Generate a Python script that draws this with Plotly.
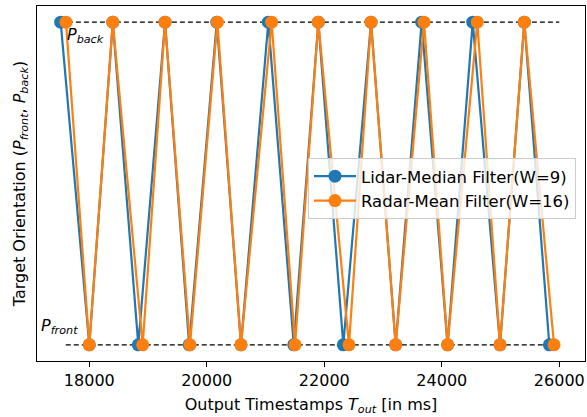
import plotly.graph_objects as go

# Data
lidar_t = [17513, 18000, 18400, 18834, 19289, 19700, 20170, 20582, 21047, 21480,
           21898, 22323, 22795, 23215, 23657, 24098, 24526, 24991, 25404, 25830]
lidar_o = [1, 0, 1, 0, 1, 0, 1, 0, 1, 0, 1, 0, 1, 0, 1, 0, 1, 0, 1, 0]
radar_t = [17603, 18000, 18400, 18909, 19289, 19714, 20180, 20582, 21104, 21502,
           21898, 22420, 22795, 23215, 23697, 24098, 24604, 24991, 25404, 25910]
radar_o = [1, 0, 1, 0, 1, 0, 1, 0, 1, 0, 1, 0, 1, 0, 1, 0, 1, 0, 1, 0]
back_line_x = [17500, 26000]
front_line_x = [17600, 26000]
x_ticks = [18000, 20000, 22000, 24000, 26000]
x_tick_labels = ["18000", "20000", "22000", "24000", "26000"]

BLUE = "#1f77b4"
ORANGE = "#ff7f0e"
FONT = "DejaVu Sans"
FS = 16

fig = go.Figure()
fig.add_trace(go.Scatter(x=back_line_x, y=[1, 1], mode="lines",
                         line=dict(color="black", width=1.4, dash="5px,3px"),
                         showlegend=False, hoverinfo="skip"))
fig.add_trace(go.Scatter(x=front_line_x, y=[0, 0], mode="lines",
                         line=dict(color="black", width=1.4, dash="5px,3px"),
                         showlegend=False, hoverinfo="skip"))
fig.add_trace(go.Scatter(x=lidar_t, y=lidar_o, mode="lines+markers",
                         name="Lidar-Median Filter(W=9)",
                         line=dict(color=BLUE, width=2.2),
                         marker=dict(color=BLUE, size=13)))
fig.add_trace(go.Scatter(x=radar_t, y=radar_o, mode="lines+markers",
                         name="Radar-Mean Filter(W=16)",
                         line=dict(color=ORANGE, width=2.2),
                         marker=dict(color=ORANGE, size=13)))

fig.add_annotation(x=17590, y=1, xref="x", yref="y", text="<i>P</i><sub><i>back</i></sub>",
                   showarrow=False, xanchor="left", yanchor="top", yshift=-1,
                   font=dict(family=FONT, size=FS, color="black"))
fig.add_annotation(x=17150, y=0, xref="x", yref="y", text="<i>P</i><sub><i>front</i></sub>",
                   showarrow=False, xanchor="left", yanchor="bottom", yshift=6,
                   font=dict(family=FONT, size=FS, color="black"))

fig.update_layout(
    width=587, height=417,
    margin=dict(l=37, r=2, t=6, b=56),
    paper_bgcolor="white", plot_bgcolor="white",
    font=dict(family=FONT, size=FS, color="black"),
    legend=dict(x=0.4945, y=0.572, xanchor="left", yanchor="top",
                bgcolor="rgba(255,255,255,0.8)", bordercolor="#cccccc", borderwidth=1,
                font=dict(family=FONT, size=16.5), itemwidth=42,
                tracegroupgap=0),
    xaxis=dict(range=[17110, 26437], tickvals=x_ticks, ticktext=x_tick_labels,
               ticks="outside", ticklen=5,
               tickcolor="black", showline=True, linecolor="black", linewidth=1.2,
               mirror=True, showgrid=False, zeroline=False,
               tickfont=dict(family=FONT, size=FS),
               title=dict(text="Output Timestamps <i>T</i><sub><i>out</i></sub> [in ms]",
                          font=dict(family=FONT, size=FS), standoff=9)),
    yaxis=dict(range=[-0.05, 1.05], showticklabels=False, ticks="",
               showline=True, linecolor="black", linewidth=1.2, mirror=True,
               showgrid=False, zeroline=False,
               title=dict(text="Target Orientation (<i>P</i><sub><i>front</i></sub>, <i>P</i><sub><i>back</i></sub>)",
                          font=dict(family=FONT, size=FS), standoff=6)),
)

fig.write_html("out.html")
